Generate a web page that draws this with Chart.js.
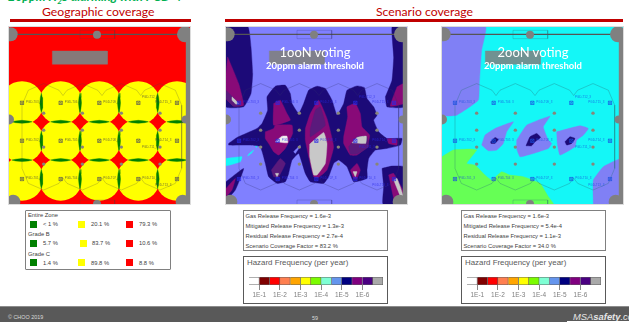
<!DOCTYPE html>
<html lang="en">
<head>
<meta charset="UTF-8">
<title>Geographic and scenario coverage</title>
<script src="https://cdn.jsdelivr.net/npm/chart.js"></script>
<style>
  html, body { margin: 0; padding: 0; background: #fff; overflow: hidden; }
  body { position: relative; width: 629px; height: 322px; font-family: "Liberation Sans", Arial, sans-serif; }
  .abs { position: absolute; white-space: nowrap; }
  canvas { position: absolute; display: block; }
  .map { outline: 1px solid #dcdcdc; }
  .head { font-family: Lato, sans-serif; color: #c00000; font-size: 12.2px; line-height: 14px; top: 5px; }
  .rule { background: #c00000; height: 3px; top: 19px; }
  .vote { color: #fff; font-family: Lato, sans-serif; text-align: center; width: 120px; }
  .box { border: 1.3px solid #808080; box-sizing: border-box; background: #fff; }
  .small { font-size: 5.8px; line-height: 7px; color: #404040; }
  .swatch { width: 7px; height: 7px; }
  .tick-name { font-size: 7.9px; line-height: 10px; color: #595959; }
</style>
</head>
<body>
<div class="abs" style="left:8px;top:-11px;font:italic bold 12.4px/15px Lato,sans-serif;color:#00b050">20ppm H<sub style="font-size:8px;line-height:0">2</sub>S alarming with PGD-4</div>
<div class="abs head" style="left:42px">Geographic coverage</div>
<div class="abs head" style="left:376px">Scenario coverage</div>
<div class="abs rule" style="left:10px;width:181px"></div>
<div class="abs rule" style="left:225px;width:398px"></div>

<canvas id="map1" class="map" width="181" height="177" style="left:9px;top:27px;background:#ff0000"></canvas>
<canvas id="map2" class="map" width="181" height="177" style="left:226px;top:27px;background:#8080ff"></canvas>
<canvas id="map3" class="map" width="181" height="177" style="left:442px;top:27px;background:#14f7f7"></canvas>

<div class="abs vote" style="left:255px;top:44px;font-size:13px;line-height:16px">1ooN voting</div>
<div class="abs vote" style="left:255px;top:60px;font-size:9.5px;line-height:12px;font-weight:bold">20ppm alarm threshold</div>
<div class="abs vote" style="left:473px;top:44px;font-size:13px;line-height:16px">2ooN voting</div>
<div class="abs vote" style="left:473px;top:60px;font-size:9.5px;line-height:12px;font-weight:bold">20ppm alarm threshold</div>

<div id="coverage" class="abs box" style="left:25px;top:210px;width:146px;height:60px;border-radius:1px"></div>
<div id="info2" class="abs box" style="left:243px;top:210px;width:145px;height:41px"></div>
<div id="info3" class="abs box" style="left:461px;top:210px;width:145px;height:41px"></div>
<div class="abs box" style="left:243px;top:256px;width:145px;height:48px;border-color:#595959"></div>
<div class="abs box" style="left:461px;top:256px;width:145px;height:48px;border-color:#595959"></div>
<div class="abs tick-name" style="left:247px;top:258px">Hazard Frequency (per year)</div>
<div class="abs tick-name" style="left:465px;top:258px">Hazard Frequency (per year)</div>
<canvas id="scale2" width="141" height="28" style="left:245px;top:274px"></canvas>
<canvas id="scale3" width="141" height="28" style="left:463px;top:274px"></canvas>

<div class="abs" style="left:0;top:306px;width:629px;height:16px;background:#595959;border-top:1px solid #8c8c8c;box-sizing:border-box"></div>
<div class="abs" style="left:8px;top:314px;font-size:5.4px;line-height:7px;color:#d9d9d9">© CHOO 2019</div>
<div class="abs" style="left:312px;top:315px;font-size:5.4px;line-height:7px;color:#d9d9d9">59</div>
<div class="abs" style="left:573px;top:311px;font-size:9.4px;line-height:12px;font-style:italic;color:#e6e6e6">MSA<b>safety</b>.com</div>
<div class="abs" style="left:567px;top:321px;width:62px;height:1px;background:#fff"></div>

<script>
// --- data, map units are 0-543 across and 0-532 down ---
const sensorColumns = [39, 155, 271, 388, 504];
const sensorRows = [228, 342, 457];
const sensorNames = [
  ['PGD-T03_3', 'PGD-T06_3', 'PGD-T09_3', 'PGD-T12_3', 'PGD-T15_3'],
  ['PGD-T02_3', 'PGD-T05_3', 'PGD-T08_3', 'PGD-T11_3', 'PGD-T14_3'],
  ['PGD-T01_3', 'PGD-T04_3', 'PGD-T07_3', 'PGD-T10_3', 'PGD-T13_3']
];
const nameOffsetX = [
  [12, 12, 12, 11, -65],
  [12, 12, 12, 11, -65],
  [12, 12, 12, 12, -65]
];
const nameOffsetY = [
  [-3, -3, -3, -16, -3],
  [-2, -2, -2, 19, -2],
  [-2, -2, -2, -2, 19]
];
const pillarX = [104, 220, 337, 453];
const pillarY = [259, 310, 361, 412];

const columnX = [5, 528, 13, 521, 264, 264, 0, 530];
const columnY = [22, 22, 525, 525, 23, 532, 278, 278];

const lensColumns = [97, 213, 330, 446];
const lensRows = [285, 400];

// geographic map has only circles, scenario maps have these hazard regions
const navyTopLeft = [[0,0],[66,0],[75,60],[80,140],[75,200],[53,240],[0,240]];
const magentaTopLeft = [[5,90],[38,170],[53,235],[23,238],[0,215],[0,140]];
const duskTopLeft = [[0,190],[43,235],[23,238],[0,215]];
const tipTopLeft = [[18,210],[38,230],[30,232],[18,220]];
const navyCentre = [[8,350],[33,332],[93,305],[108,290],[125,250],[123,210],[148,178],[178,175],[193,200],[198,230],[218,260],[233,230],[248,190],[273,178],[298,185],[318,220],[333,265],[353,230],[363,190],[393,177],[415,182],[423,215],[443,240],[453,265],[443,280],[458,315],[483,335],[528,335],[523,355],[483,365],[448,370],[428,395],[423,430],[423,455],[383,465],[363,420],[338,400],[323,410],[308,450],[293,470],[253,465],[238,440],[218,380],[198,400],[188,440],[178,465],[153,470],[128,450],[118,410],[103,360],[73,355],[8,355]];
const magentaLeft = [[118,315],[143,305],[148,295],[198,295],[200,320],[178,365],[158,385],[143,375],[128,350],[118,335]];
const magentaUpperLeft = [[143,230],[163,220],[183,260],[193,280],[143,295]];
const duskLowLeft = [[136,430],[163,395],[178,410],[158,450],[143,450]];
const tipLowLeft = [[148,440],[158,440],[153,450]];
const whiteLeft = [[148,345],[168,328],[183,328],[185,348]];
const magentaMid = [[238,305],[253,260],[278,220],[303,275],[323,360],[303,430],[278,452],[263,450],[248,390],[238,340]];
const duskMid = [[253,305],[268,250],[283,240],[298,295],[253,330]];
const greyMid = [[251,352],[293,317],[303,350],[298,410],[273,445],[263,445],[251,390]];
const magentaRight = [[353,330],[365,270],[363,240],[388,230],[403,260],[408,300],[431,325],[423,360],[393,385],[373,385],[353,350]];
const duskRight = [[368,360],[393,330],[423,330],[428,360],[393,382],[373,382]];
const greyRight = [[378,348],[393,332],[421,328],[419,350]];
const magentaLowRight = [[373,430],[393,410],[403,430],[393,455],[383,455]];
const greyLowRight = [[381,435],[393,435],[388,450]];
const magentaFarRight = [[483,335],[513,338],[513,355],[488,350]];
const navySpeck = [[203,375],[223,355],[218,365],[208,380]];
const navyTopRight = [[478,210],[498,160],[503,90],[498,0],[533,0],[533,240],[483,240]];
const magentaTopRight = [[513,180],[533,170],[533,230],[493,238]];
const navyBottomRight = [[468,425],[498,418],[533,420],[533,532],[471,532],[473,480]];
const magentaBottomRight = [[488,445],[503,440],[533,495],[533,532],[508,532]];
const greyBottomRight = [[503,460],[513,455],[531,505],[528,520]];
const navyBottomLeft = [[0,465],[53,425],[28,490],[0,520]];
const magentaBottomLeft = [[0,485],[28,455],[18,490],[0,510]];
const cyanLeft = [[0,395],[48,390],[43,405],[0,417]];
const cyanSpeckA = [[68,382],[83,370],[78,378],[65,388]];
const cyanSpeckB = [[88,360],[95,355],[92,362]];

const slateTopLeft = [[0,0],[131,0],[119,70],[112,170],[109,220],[44,265],[0,265]];
const greenBottomLeft = [[0,390],[34,370],[84,367],[104,370],[74,410],[99,415],[124,440],[149,460],[179,435],[204,445],[244,450],[294,470],[319,510],[334,532],[0,532]];
const slateBottomRight = [[454,532],[454,460],[484,420],[524,400],[542,395],[542,532]];
const slateIslandL = [[119,355],[129,325],[159,305],[214,285],[194,315],[184,350],[164,370],[139,372]];
const slateIslandM = [[224,340],[254,295],[324,268],[304,300],[319,340],[329,350],[319,365],[274,380],[234,390],[224,365]];
const slateIslandR = [[344,315],[414,297],[439,305],[424,325],[404,340],[399,360],[354,385],[346,350]];
const navyCoreL = [[146,345],[159,332],[169,338],[159,350],[147,350]];
const navyCoreM = [[252,357],[264,330],[284,320],[296,332],[279,345],[269,357]];
const navyCoreR = [[369,345],[384,330],[399,335],[389,350],[374,355]];

// plant outline, same on all three maps
const building = [[130,72],[295,72],[295,112],[130,112]];
const sideWall = [[531,25],[543,25],[543,532],[531,532]];
const topBeam = [[0,22],[543,22]];
const topHatch = [[213,10],[317,10],[317,35],[213,35],[213,10]];
const lowHatch = [[213,532],[213,520],[317,520],[317,532]];
const detectorEnvelope = [[39,425],[39,235],[58,190],[104,170],[150,190],[162,206],[174,190],[220,170],[266,190],[279,206],[291,190],[337,170],[383,190],[395,206],[407,190],[453,170],[499,190],[518,235],[518,425],[499,470],[453,490],[407,470],[395,454],[383,470],[337,490],[291,470],[279,454],[266,470],[220,490],[174,470],[162,454],[150,470],[104,490],[58,470],[39,425]];

const coverageGroups = ['Entire Zone', 'Grade B', 'Grade C'];
const greenCoverage = ['< 1 %', '5.7 %', '1.4 %'];
const yellowCoverage = ['20.1 %', '83.7 %', '89.8 %'];
const redCoverage = ['79.3 %', '10.6 %', '8.8 %'];

const infoNames = ['Gas Release Frequency', 'Mitigated Release Frequency', 'Residual Release Frequency', 'Scenario Coverage Factor'];
const info1ooN = ['1.6e-3', '1.3e-3', '2.7e-4', '83.2 %'];
const info2ooN = ['1.6e-3', '5.4e-4', '1.1e-3', '34.0 %'];

const hazardColors = ['#ffffff','#800000','#ff0000','#ff7f50','#ffa500','#ffff00','#7cfc00','#7fffd4','#6495ed','#000080','#800080','#4b0082','#a9a9a9'];
const hazardTickValues = [1, 3, 5, 7, 9, 11];
const hazardTickLabels = ['1E-1', '1E-2', '1E-3', '1E-4', '1E-5', '1E-6'];

const NAVY = '#1c0a78', MAGENTA = '#880a78', DUSK = '#5a1a7c', PALE = '#c8c8c8', SLATE = '#8080f5', GREEN = '#66ff55';

const layers2 = [
  [navyTopLeft, NAVY], [magentaTopLeft, MAGENTA], [duskTopLeft, DUSK], [tipTopLeft, PALE],
  [navyTopRight, NAVY], [magentaTopRight, MAGENTA],
  [navyBottomRight, NAVY], [magentaBottomRight, MAGENTA], [greyBottomRight, PALE],
  [navyBottomLeft, NAVY], [magentaBottomLeft, MAGENTA],
  [cyanLeft, '#14f7f7'], [cyanSpeckA, '#14f7f7'], [cyanSpeckB, '#14f7f7'],
  [navyCentre, NAVY],
  [magentaLeft, MAGENTA], [magentaUpperLeft, MAGENTA], [duskLowLeft, DUSK], [tipLowLeft, PALE], [whiteLeft, '#eeeeee'],
  [magentaMid, MAGENTA], [duskMid, DUSK], [greyMid, PALE],
  [magentaRight, MAGENTA], [duskRight, DUSK], [greyRight, PALE],
  [magentaLowRight, MAGENTA], [greyLowRight, PALE], [magentaFarRight, MAGENTA], [navySpeck, '#8080ff']
];
const layers3 = [
  [slateTopLeft, SLATE], [greenBottomLeft, GREEN], [slateBottomRight, SLATE],
  [slateIslandL, SLATE], [slateIslandM, SLATE], [slateIslandR, SLATE],
  [navyCoreL, NAVY], [navyCoreM, NAVY], [navyCoreR, NAVY]
];

function toPoints(list) {
  return list.map(p => ({ x: p[0], y: p[1] }));
}

function polygon(list, color, tension) {
  const closed = list.concat([list[0]]);
  return { type: 'scatter', showLine: true, data: toPoints(closed), fill: 'shape', backgroundColor: color,
           borderColor: color, borderWidth: 0.4, pointRadius: 0, tension: tension === undefined ? 0.12 : tension };
}

function outline(list, color, width) {
  return { type: 'scatter', showLine: true, data: toPoints(list), fill: false, borderColor: color,
           borderWidth: width, pointRadius: 0, tension: 0 };
}

function lens(cx, cy, w, h) {
  return [[cx,cy-h],[cx+w*0.65,cy-h*0.55],[cx+w,cy],[cx+w*0.65,cy+h*0.55],[cx,cy+h],[cx-w*0.65,cy+h*0.55],[cx-w,cy],[cx-w*0.65,cy-h*0.55]];
}

function geographicLayers() {
  const sets = [];
  const circles = [];
  sensorRows.forEach(y => sensorColumns.forEach(x => circles.push({ x: x, y: y, r: 21.7 })));
  sets.push({ type: 'bubble', data: circles, backgroundColor: '#ffff00', borderWidth: 0 });
  sensorRows.forEach(y => lensColumns.forEach(x => sets.push(polygon(lens(x, y, 4.5, 29), '#008000', 0))));
  lensRows.forEach(y => sensorColumns.forEach(x => sets.push(polygon(lens(x, y, 30, 4.5), '#008000', 0))));
  return sets;
}

function plantLayers(grey, lineColor, sensorColor) {
  const sets = [];
  sets.push(outline(detectorEnvelope, lineColor, 0.6));
  sets.push(polygon(building, grey, 0));
  sets.push(polygon(sideWall, '#808080', 0));
  sets.push(outline(topBeam, '#555555', 1.2));
  sets.push(outline(topHatch, lineColor, 0.5));
  sets.push(outline(lowHatch, lineColor, 0.5));
  const big = columnX.map((x, i) => ({ x: x, y: columnY[i], r: [7, 8, 7, 7, 4, 4, 5, 4][i] }));
  sets.push({ type: 'bubble', data: big, backgroundColor: '#808080', borderWidth: 0 });
  const dots = [];
  pillarY.forEach(y => pillarX.forEach(x => dots.push({ x: x, y: y, r: 1.7 })));
  sets.push({ type: 'bubble', data: dots, backgroundColor: '#88857a', borderWidth: 0 });
  const marks = [];
  sensorRows.forEach(y => sensorColumns.forEach(x => marks.push({ x: x, y: y })));
  sets.push({ type: 'scatter', data: marks, pointStyle: 'rect', pointRadius: 2.3, backgroundColor: 'rgba(0,0,0,0)', borderColor: sensorColor, borderWidth: 0.7 });
  sets.push({ type: 'scatter', data: marks, pointStyle: 'crossRot', pointRadius: 2.3, borderColor: sensorColor, borderWidth: 0.6 });
  return sets;
}

const sensorNamePlugin = {
  id: 'sensorNames',
  afterDatasetsDraw(chart, args, opts) {
    const ctx = chart.ctx;
    ctx.save();
    ctx.fillStyle = opts.color;
    ctx.globalAlpha = 0.75;
    ctx.font = '3px "Liberation Sans", sans-serif';
    ctx.textBaseline = 'middle';
    sensorRows.forEach((y, r) => sensorColumns.forEach((x, c) => {
      const px = chart.scales.x.getPixelForValue(x + nameOffsetX[r][c]);
      const py = chart.scales.y.getPixelForValue(y + nameOffsetY[r][c]);
      ctx.fillText(sensorNames[r][c], px, py);
    }));
    ctx.restore();
  }
};

function drawMap(id, sets, nameColor) {
  // first in the list gets painted first
  sets.forEach((s, i) => { s.order = sets.length - i; });
  new Chart(document.getElementById(id), {
    type: 'scatter',
    data: { datasets: sets },
    plugins: [sensorNamePlugin],
    options: {
      responsive: false,
      animation: false,
      events: [],
      layout: { padding: 0, autoPadding: false },
      plugins: { legend: { display: false }, tooltip: { enabled: false }, sensorNames: { color: nameColor } },
      scales: {
        x: { type: 'linear', min: 0, max: 543, display: false },
        y: { type: 'linear', min: 0, max: 532, reverse: true, display: false }
      }
    }
  });
}

function polyLayers(list) {
  return list.map(l => polygon(l[0], l[1]));
}

drawMap('map1', geographicLayers().concat(plantLayers('rgba(128,128,128,0.95)', 'rgba(70,70,70,0.4)', '#555555')), '#444444');
drawMap('map2', polyLayers(layers2).concat(plantLayers('rgba(128,128,128,0.9)', 'rgba(50,50,110,0.45)', '#2a2ae6')), '#2a2ae6');
drawMap('map3', polyLayers(layers3).concat(plantLayers('rgba(128,128,128,0.85)', 'rgba(40,110,120,0.55)', '#1a50e0')), '#1a50e0');

function drawHazardScale(id) {
  new Chart(document.getElementById(id), {
    type: 'bar',
    data: {
      labels: ['Hazard'],
      datasets: hazardColors.map(c => ({ data: [1], backgroundColor: c, borderColor: '#5f5f5f', borderWidth: 0.8, barPercentage: 1, categoryPercentage: 1 }))
    },
    options: {
      indexAxis: 'y',
      responsive: false,
      animation: false,
      events: [],
      layout: { padding: { left: 4, right: 3, top: 3, bottom: 0 } },
      plugins: { legend: { display: false }, tooltip: { enabled: false } },
      scales: {
        y: { stacked: true, display: false },
        x: {
          stacked: true, min: 0, max: 13,
          border: { display: false },
          grid: { drawOnChartArea: false, tickLength: 5, tickColor: '#555555', lineWidth: 0.7 },
          afterBuildTicks: scale => { scale.ticks = hazardTickValues.map(v => ({ value: v })); },
          afterFit: scale => { scale.height = 17; },
          ticks: {
            autoSkip: false, maxRotation: 0, padding: 1, color: '#7f7f7f',
            font: { family: '"Liberation Sans", sans-serif', size: 6.5 },
            callback: (val, i) => hazardTickLabels[i]
          }
        }
      }
    }
  });
}
drawHazardScale('scale2');
drawHazardScale('scale3');

// text panels under the maps
function addText(parent, text, left, top, cls) {
  const el = document.createElement('div');
  el.className = 'abs ' + cls;
  el.style.left = left + 'px';
  el.style.top = top + 'px';
  el.textContent = text;
  parent.appendChild(el);
}
function addSwatch(parent, color, left, top) {
  const el = document.createElement('div');
  el.className = 'abs swatch';
  el.style.left = left + 'px';
  el.style.top = top + 'px';
  el.style.background = color;
  parent.appendChild(el);
}

const coverageBox = document.getElementById('coverage');
const yellowSwatchX = [52, 54, 52];
const yellowTextX = [65, 66, 65];
coverageGroups.forEach((g, i) => {
  const top = 1 + i * 19.4;
  addText(coverageBox, g, 2, top, 'small');
  addSwatch(coverageBox, '#008000', 4, top + 8.5);
  addText(coverageBox, greenCoverage[i], 17, top + 9, 'small');
  addSwatch(coverageBox, '#ffff00', yellowSwatchX[i], top + 8.5);
  addText(coverageBox, yellowCoverage[i], yellowTextX[i], top + 9, 'small');
  addSwatch(coverageBox, '#ff0000', 100, top + 8.5);
  addText(coverageBox, redCoverage[i], 113, top + 9, 'small');
});

function fillInfo(id, values) {
  const box = document.getElementById(id);
  infoNames.forEach((n, i) => addText(box, n + ' = ' + values[i], 1.5, 1.5 + i * 10, 'small'));
}
fillInfo('info2', info1ooN);
fillInfo('info3', info2ooN);
</script>
</body>
</html>
